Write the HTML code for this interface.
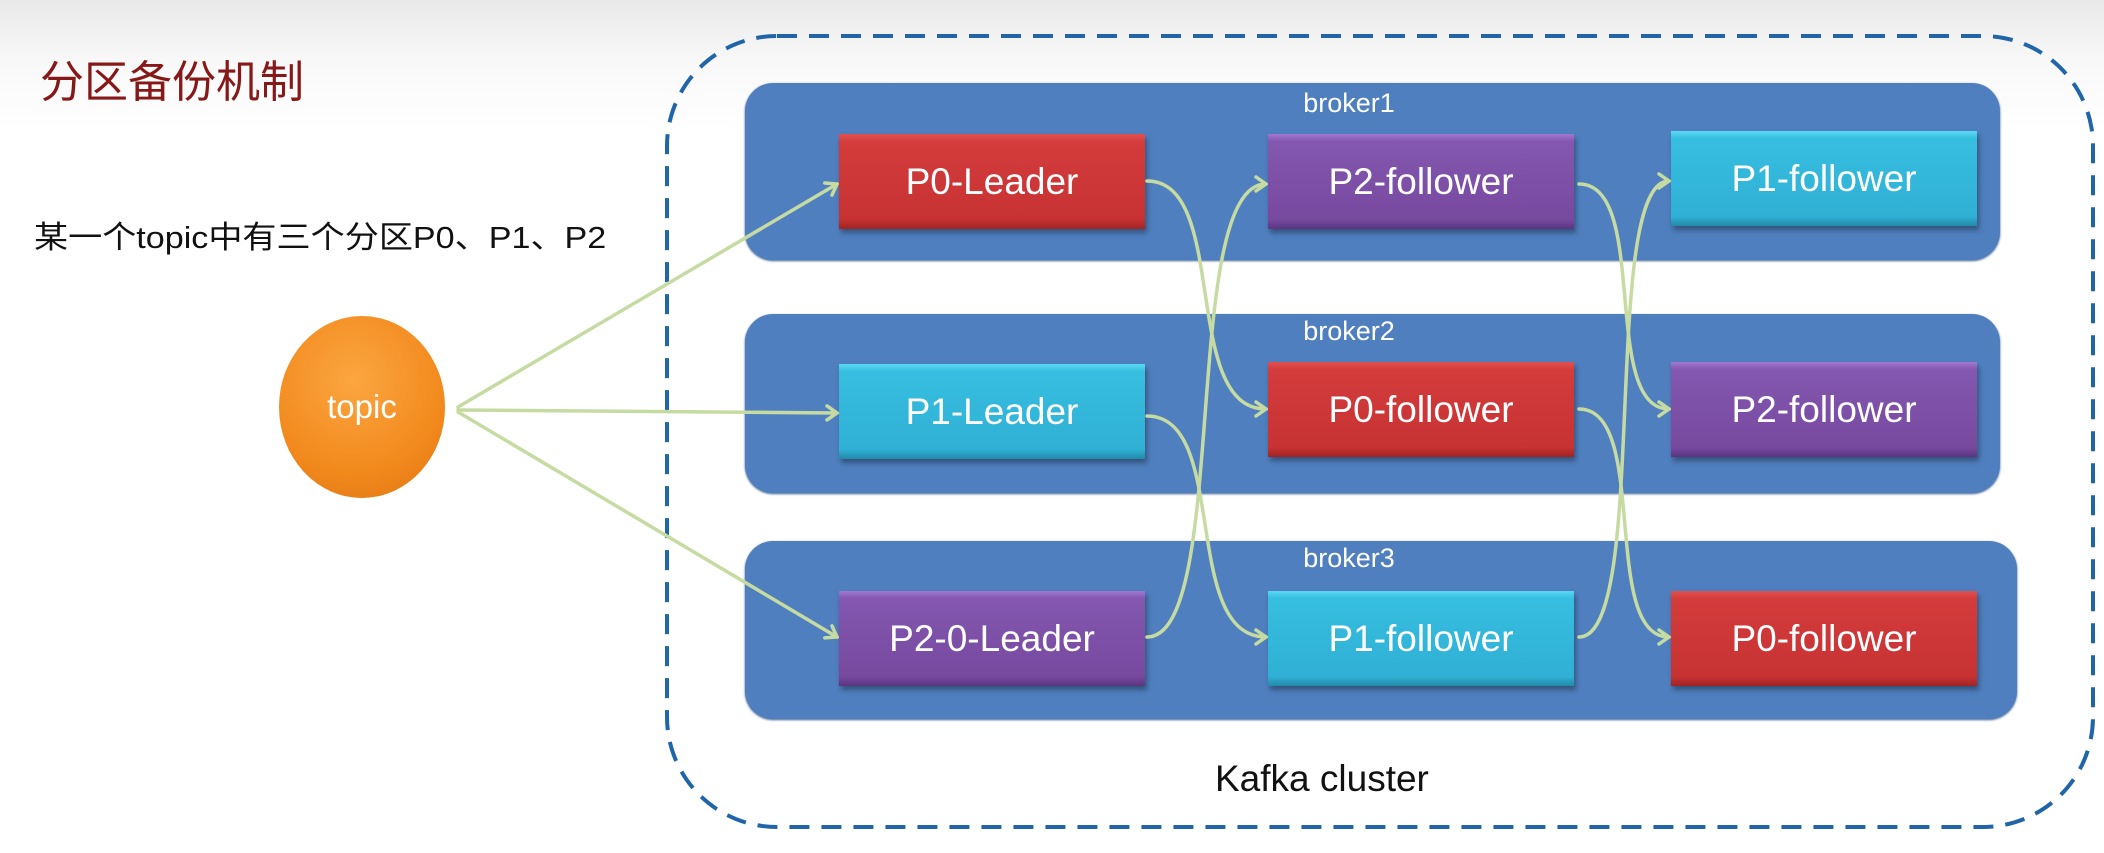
<!DOCTYPE html>
<html><head><meta charset="utf-8"><style>
html,body{margin:0;padding:0}
body{width:2104px;height:853px;position:relative;overflow:hidden;background:linear-gradient(#e9e9e9 0px,#f8f8f8 60px,#fff 130px);font-family:"Liberation Sans","Noto Sans CJK SC",sans-serif}
.t{position:absolute;white-space:nowrap}
.br{position:absolute;background:#4f7fbf;border-radius:28px;box-shadow:0 1px 2px #3a5f90}
.bl{position:absolute;color:#fff;font-size:27px;width:200px;text-align:center}
.bx{position:absolute;width:306px;height:95px;color:#fff;font-size:37px;display:flex;align-items:center;justify-content:center;box-shadow:2px 4px 5px rgba(0,0,0,.35)}
.red{background:linear-gradient(#e05050 0,#d43c3c 8%,#c73232 90%,#a02424 100%)}
.cy{background:linear-gradient(#5ad8f2 0,#36bee0 8%,#2fb0d4 90%,#238aa8 100%)}
.pu{background:linear-gradient(#a078d0 0,#8457b0 8%,#77499f 90%,#5a3580 100%)}
</style></head><body>
<div class="t" style="left:40px;top:46px;font-size:44px;color:#861818">分区备份机制</div>
<div class="t" style="left:34px;top:212px;font-size:31px;color:#111;transform:scaleX(1.1);transform-origin:left">某一个topic中有三个分区P0、P1、P2</div>
<svg style="position:absolute;left:0;top:0" width="2104" height="853">
<rect x="667" y="36" width="1426" height="791" rx="110" fill="none" stroke="#1f65a8" stroke-width="4" stroke-dasharray="20,12"/>
</svg>
<div class="br" style="left:745px;top:83px;width:1255px;height:177px"></div>
<div class="br" style="left:745px;top:314px;width:1255px;height:179px"></div>
<div class="br" style="left:745px;top:541px;width:1272px;height:178px"></div>
<div class="bl" style="left:1249px;top:88px">broker1</div>
<div class="bl" style="left:1249px;top:316px">broker2</div>
<div class="bl" style="left:1249px;top:543px">broker3</div>
<div class="t" style="left:1215px;top:758px;font-size:37px;color:#111">Kafka cluster</div>
<div style="position:absolute;left:279px;top:316px;width:166px;height:182px;border-radius:50%;background:radial-gradient(circle at 45% 35%,#fba640,#f28a1e 60%,#e07510);color:#fff;font-size:33px;display:flex;align-items:center;justify-content:center">topic</div>
<div class="bx red" style="left:839px;top:134px">P0-Leader</div>
<div class="bx pu" style="left:1268px;top:134px">P2-follower</div>
<div class="bx cy" style="left:1671px;top:131px">P1-follower</div>
<div class="bx cy" style="left:839px;top:364px">P1-Leader</div>
<div class="bx red" style="left:1268px;top:362px">P0-follower</div>
<div class="bx pu" style="left:1671px;top:362px">P2-follower</div>
<div class="bx pu" style="left:839px;top:591px">P2-0-Leader</div>
<div class="bx cy" style="left:1268px;top:591px">P1-follower</div>
<div class="bx red" style="left:1671px;top:591px">P0-follower</div>
<svg style="position:absolute;left:0;top:0" width="2104" height="853" fill="none" stroke="#c6dba2" stroke-width="3.5" stroke-linecap="round">
<defs><marker id="a" markerWidth="14" markerHeight="18" refX="12" refY="9" orient="auto" markerUnits="userSpaceOnUse"><path d="M2,2 L12,9 L2,16" fill="none" stroke="#c6dba2" stroke-width="3.5"/></marker></defs>
<g marker-end="url(#a)">
<path d="M458,407 L837,184"/>
<path d="M458,410 L837,413"/>
<path d="M458,412 L837,637"/>
<path d="M1147,181 C1230,181 1180,409 1266,409"/>
<path d="M1147,637 C1230,637 1180,184 1266,184"/>
<path d="M1147,416 C1230,416 1180,637 1266,637"/>
<path d="M1579,184 C1650,184 1600,409 1669,409"/>
<path d="M1579,409 C1650,409 1600,637 1669,637"/>
<path d="M1579,637 C1650,637 1600,181 1669,181"/>
</g></svg>
</body></html>
